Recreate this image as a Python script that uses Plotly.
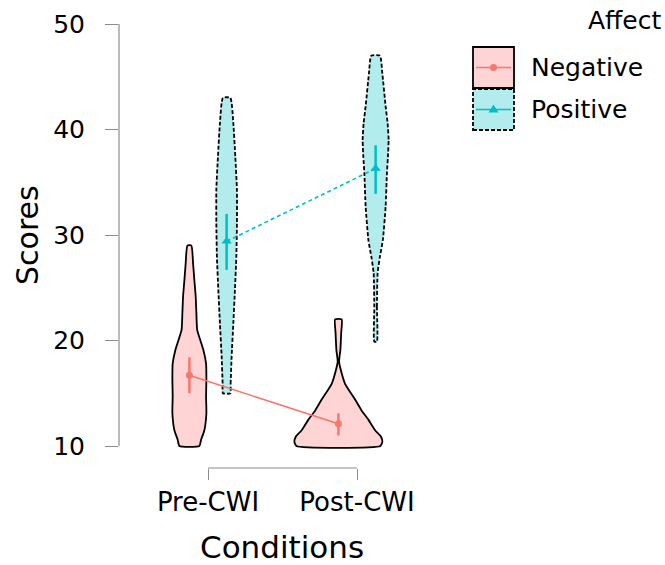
import plotly.graph_objects as go

# ---------------- data ----------------
conditions = ["Pre-CWI", "Post-CWI"]
affects = ["Negative", "Positive"]

# violin density profiles (score levels and half-width density)
neg_pre_y = [10, 10.6, 11.5, 13.1, 14.7, 16.3, 17.8, 19.1, 20.0, 21.0, 22.6, 24.2, 25.7, 27.3, 29]
neg_pre_w = [10, 11.7, 15, 17, 16.7, 17, 16.7, 14, 11, 7.8, 7, 6.3, 5, 3.7, 2]
neg_post_y = [10, 10.4, 10.9, 11.5, 12.5, 13.4, 14.4, 15.9, 16.9, 18.0, 19.1, 20.7, 22]
neg_post_w = [42, 44, 42.5, 36.7, 30, 23, 16.7, 6.7, 3.3, 0.7, 2, 2.8, 3.3]
pos_pre_y = [15, 15.9, 18.5, 21.6, 24.8, 27.9, 31.1, 34.3, 37.4, 40.6, 43]
pos_pre_w = [3.7, 4, 5, 6.7, 8.3, 9.7, 10.3, 10.3, 8.7, 6.7, 3.7]
pos_post_y = [19.9, 23.2, 26.4, 27.9, 29.5, 32.7, 35.9, 37.4, 39.0, 40.6, 42.2, 45.3, 47]
pos_post_w = [1.3, 1.3, 2, 4.2, 7.2, 10, 11.3, 12.3, 13, 12, 10, 6.7, 4.3]

# means and error bar limits
neg_mean = [16.7, 12.1]
neg_low = [15.0, 11.0]
neg_high = [18.4, 13.1]
pos_mean = [29.4, 36.3]
pos_low = [26.7, 33.9]
pos_high = [32.0, 38.5]

y_ticks = [10, 20, 30, 40, 50]

# ---------------- style ----------------
FONT = "DejaVu Sans"
NEG_LINE = "#F8766D"
POS_LINE = "#00BFC4"
NEG_FILL = "rgba(255,170,170,0.5)"
POS_FILL = "rgba(0,191,196,0.3)"
AXIS_COL = "#8c8c8c"
DODGE = 0.125
W_SCALE = 1 / 149.0  # density unit -> x units
OUT_W = 1.8
POS_DASH = "4px,2px"

cat_x = [1, 2]

fig = go.Figure()


def violin(center, ys, ws, fill, dash):
    xs = [center + w * W_SCALE for w in ws] + [center - w * W_SCALE for w in ws[::-1]]
    yy = list(ys) + list(ys[::-1])
    xs.append(xs[0])
    yy.append(yy[0])
    fig.add_trace(go.Scatter(
        x=xs, y=yy, mode="lines", fill="toself", fillcolor=fill,
        line=dict(color="black", width=OUT_W, dash=dash, shape="spline", smoothing=0.5),
        hoverinfo="skip", showlegend=False))


violin(cat_x[0] - DODGE, neg_pre_y, neg_pre_w, NEG_FILL, "solid")
violin(cat_x[1] - DODGE, neg_post_y, neg_post_w, NEG_FILL, "solid")
violin(cat_x[0] + DODGE, pos_pre_y, pos_pre_w, POS_FILL, POS_DASH)
violin(cat_x[1] + DODGE, pos_post_y, pos_post_w, POS_FILL, POS_DASH)


def means(mean, low, high, color, dash, symbol, size, offset):
    fig.add_trace(go.Scatter(
        x=[c + offset for c in cat_x], y=mean, mode="lines+markers",
        line=dict(color=color, width=1.6, dash=dash),
        marker=dict(color=color, symbol=symbol, size=size),
        error_y=dict(type="data", symmetric=False,
                     array=[h - m for h, m in zip(high, mean)],
                     arrayminus=[m - l for m, l in zip(mean, low)],
                     color=color, thickness=2.5, width=0),
        showlegend=False))


means(neg_mean, neg_low, neg_high, NEG_LINE, "solid", "circle", 7, -DODGE)
means(pos_mean, pos_low, pos_high, POS_LINE, "4px,3px", "triangle-up", 9, DODGE)

# ---------------- layout ----------------
W, H = 665, 565
L = 119            # plot left edge
T = 24             # plot top (y = 50)
B = H - 468        # plot bottom at px 468
R = W - 445        # plot right at px 445
pw, ph = W - L - R, H - T - B


def px_x(px):
    return (px - L) / pw


def px_y(py):
    return (H - B - py) / ph


shapes = [
    # range-frame axis lines
    dict(type="line", xref="paper", yref="y", x0=0, x1=0, y0=y_ticks[0], y1=y_ticks[-1],
         line=dict(color=AXIS_COL, width=1.2)),
    dict(type="line", xref="x", yref="paper", x0=cat_x[0], x1=cat_x[-1], y0=0, y1=0,
         line=dict(color=AXIS_COL, width=1.2)),
]

# legend keys
leg = [(affects[0], 47, 88, NEG_FILL, NEG_LINE, "solid"),
       (affects[1], 89, 130, POS_FILL, POS_LINE, POS_DASH)]
annotations = []
for name, y0, y1, fill, lc, dash in leg:
    shapes.append(dict(type="rect", xref="paper", yref="paper",
                       x0=px_x(473), x1=px_x(514), y0=px_y(y1), y1=px_y(y0),
                       fillcolor=fill, line=dict(color="black", width=OUT_W, dash=dash)))
    ym = px_y((y0 + y1) / 2)
    shapes.append(dict(type="line", xref="paper", yref="paper",
                       x0=px_x(476), x1=px_x(511), y0=ym, y1=ym,
                       line=dict(color=lc, width=1.6)))
    annotations.append(dict(text=name, xref="paper", yref="paper", x=px_x(529), y=ym,
                            xanchor="left", yanchor="middle", showarrow=False,
                            font=dict(family=FONT, size=25, color="black")))

# legend markers
cx = px_x(493.5)
ym = px_y(67.5)
r = 3.5
shapes.append(dict(type="circle", xref="paper", yref="paper",
                   x0=cx - r / pw, x1=cx + r / pw, y0=ym - r / ph, y1=ym + r / ph,
                   fillcolor=NEG_LINE, line=dict(color=NEG_LINE, width=0)))
ty = 109.5
tri = "M {} {} L {} {} L {} {} Z".format(px_x(488.5), px_y(ty + 3), px_x(498.5), px_y(ty + 3),
                                          px_x(493.5), px_y(ty - 5))
shapes.append(dict(type="path", xref="paper", yref="paper", path=tri,
                   fillcolor=POS_LINE, line=dict(color=POS_LINE, width=0)))

annotations.append(dict(text="Affect", xref="paper", yref="paper", x=px_x(663), y=px_y(21),
                        xanchor="right", yanchor="middle", showarrow=False,
                        font=dict(family=FONT, size=25, color="black")))
annotations.append(dict(text="Scores", xref="paper", yref="paper", x=px_x(27), y=px_y(235),
                        xanchor="center", yanchor="middle", textangle=-90, showarrow=False,
                        font=dict(family=FONT, size=30, color="black")))
annotations.append(dict(text="Conditions", xref="paper", yref="paper", x=px_x(282), y=px_y(547),
                        xanchor="center", yanchor="middle", showarrow=False,
                        font=dict(family=FONT, size=31, color="black")))

fig.update_layout(
    width=W, height=H,
    margin=dict(l=L, r=R, t=T, b=B, pad=0, autoexpand=False),
    paper_bgcolor="white", plot_bgcolor="white",
    showlegend=False,
    shapes=shapes, annotations=annotations,
    xaxis=dict(range=[1 - 89 / 149, 2 + 88 / 149], tickvals=cat_x, ticktext=conditions,
               ticks="outside", ticklen=11, tickwidth=1.2, tickcolor=AXIS_COL,
               showline=False, showgrid=False, zeroline=False, automargin=False,
               tickfont=dict(family=FONT, size=26, color="black"), ticklabelstandoff=0),
    yaxis=dict(range=[10 - 22 / 10.55, 50], tickvals=y_ticks,
               ticks="outside", ticklen=13, tickwidth=1.2, tickcolor=AXIS_COL,
               showline=False, showgrid=False, zeroline=False, automargin=False,
               tickfont=dict(family=FONT, size=25, color="black"), ticklabelstandoff=15),
)

# remove the page's default body margin so the figure sits at the window corner
fig.write_html("out.html",
               config={"displayModeBar": False},
               post_script="document.body.style.margin='0';document.body.style.overflow='hidden';")
